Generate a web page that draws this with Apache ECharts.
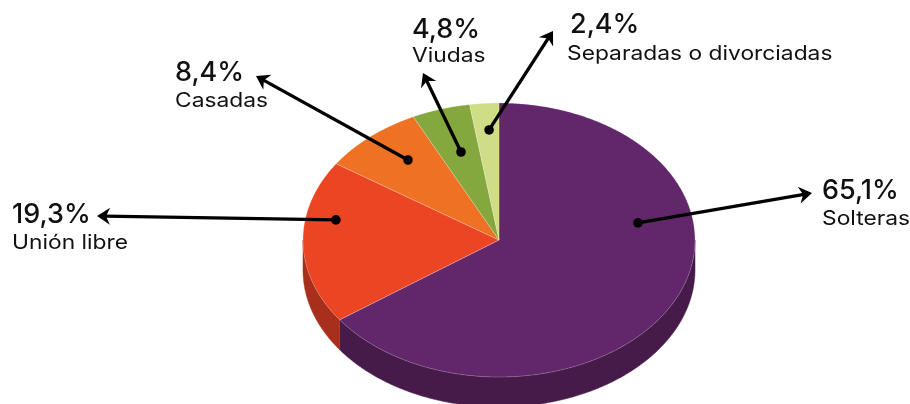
<!DOCTYPE html>
<html>
<head>
<meta charset="utf-8">
<script src="https://cdn.jsdelivr.net/npm/echarts@6/dist/echarts.min.js"></script>
<style>
html,body{margin:0;padding:0;background:#fff;}
#main{width:910px;height:404px;}
</style>
</head>
<body>
<div id="main"></div>
<script>
// ---- data ----
const categories = ['Solteras', 'Unión libre', 'Casadas', 'Viudas', 'Separadas o divorciadas'];
const percentages = [65.1, 19.3, 8.4, 4.8, 2.4];

// ---- styles ----
const topColors = ['#62266a', '#ec4524', '#ef7123', '#85a83e', '#cfdd87'];
const sideColors = ['#461b4a', '#a82f1c', '#b5551a', '#62802e', '#a3b066'];

// ---- layout (annotation positions) ----
const pie = { cx: 499, cy: 240, rx: 196, ry: 137, depth: 30 };
// dot anchor on the slice: [angle clockwise from top in degrees, radius fraction]
const dotAnchors = [[80, 0.72], [280, 0.845], [321.5, 0.746], [343.2, 0.671], [356.4, 0.805]];
// arrow tip positions
const arrowTips = [[812, 193], [97, 216], [256, 76], [423, 73], [553, 31]];
// text positions: percent left x, name left x, percent center y, name center y
const textPos = [[822, 822, 191, 219], [12, 12, 215, 243], [175, 175, 73, 101], [412, 412, 30, 56], [570, 567, 25, 54]];

const total = percentages.reduce((a, b) => a + b, 0);
const FONT = 'Inter, "Noto Sans", sans-serif';

function pt(deg, dy, frac) {
  const t = deg * Math.PI / 180;
  const f = frac == null ? 1 : frac;
  return [pie.cx + pie.rx * f * Math.sin(t), pie.cy - pie.ry * f * Math.cos(t) + (dy || 0)];
}
function arc(a, b, dy) {
  const pts = [];
  const n = Math.max(2, Math.ceil((b - a) / 0.5));
  for (let i = 0; i <= n; i++) pts.push(pt(a + (b - a) * i / n, dy));
  return pts;
}

function renderItem(params, api) {
  const i = params.dataIndex;
  const v = api.value(0);
  let before = 0;
  for (let k = 0; k < i; k++) before += percentages[k];
  const a = before / total * 360;
  const b = (before + v) / total * 360;
  const children = [];
  // side (front half only: 90..270)
  const s = Math.max(a, 90), e = Math.min(b, 270);
  if (s < e) {
    const top = arc(s, e, 0);
    const bot = arc(s, e, pie.depth).reverse();
    children.push({
      type: 'polygon', z2: 1,
      shape: { points: top.concat(bot) },
      style: { fill: sideColors[i], stroke: sideColors[i], lineWidth: 0.5 }
    });
  }
  // top face
  children.push({
    type: 'polygon', z2: 2,
    shape: { points: [[pie.cx, pie.cy]].concat(arc(a, b, 0)) },
    style: { fill: topColors[i], stroke: 'rgba(255,255,255,0.35)', lineWidth: 0.6 }
  });
  // arrow
  const d = pt(dotAnchors[i][0], 0, dotAnchors[i][1]);
  const tip = arrowTips[i];
  const dx = tip[0] - d[0], dyy = tip[1] - d[1];
  const len = Math.sqrt(dx * dx + dyy * dyy);
  const ux = dx / len, uy = dyy / len;
  const L = 13, W = 8.5, N = 4;
  const base = [tip[0] - ux * L, tip[1] - uy * L];
  children.push({
    type: 'line', z2: 10,
    shape: { x1: d[0], y1: d[1], x2: base[0] + ux * (N + 1), y2: base[1] + uy * (N + 1) },
    style: { stroke: '#000', lineWidth: 3.3 }
  });
  children.push({
    type: 'polygon', z2: 10,
    shape: { points: [tip, [base[0] - uy * W, base[1] + ux * W], [base[0] + ux * N, base[1] + uy * N], [base[0] + uy * W, base[1] - ux * W]] },
    style: { fill: '#000' }
  });
  children.push({
    type: 'circle', z2: 10,
    shape: { cx: d[0], cy: d[1], r: 4.8 },
    style: { fill: '#000' }
  });
  // texts
  const tp = textPos[i];
  children.push({
    type: 'text', z2: 11, x: tp[0], y: tp[2],
    style: {
      text: v.toFixed(1).replace('.', ',') + '%',
      fill: '#111', fontSize: 27, fontWeight: 500, fontFamily: FONT,
      align: 'left', verticalAlign: 'middle'
    }
  });
  children.push({
    type: 'text', z2: 11, x: tp[1], y: tp[3], scaleX: 1.14,
    style: {
      text: categories[i],
      fill: '#111', fontSize: 20, fontWeight: 400, fontFamily: FONT,
      align: 'left', verticalAlign: 'middle'
    }
  });
  return { type: 'group', children: children };
}

const chart = echarts.init(document.getElementById('main'), null, { renderer: 'canvas' });
chart.setOption({
  animation: false,
  backgroundColor: '#fff',
  series: [{
    type: 'custom',
    coordinateSystem: 'none',
    renderItem: renderItem,
    data: percentages.map((v, i) => ({ name: categories[i], value: [v] }))
  }]
});
</script>
</body>
</html>
